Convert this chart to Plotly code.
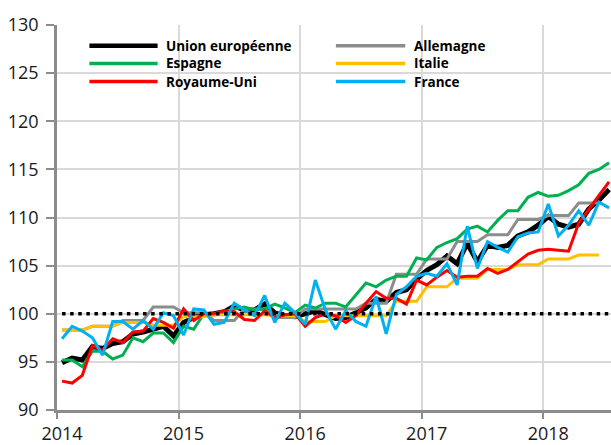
import plotly.graph_objects as go

# Monthly index: 0 = Jan 2014 ... 54 = Jul 2018
months = list(range(55))
year_labels = ["2014", "2015", "2016", "2017", "2018"]
year_ticks = [-0.5, 11.5, 23.5, 35.5, 47.5]

union_europeenne = [
    94.9, 95.4, 95.2, 96.6, 96.4, 96.9, 97.1, 97.9, 98.1, 98.4, 98.7, 97.7,
    99.1, 99.6, 99.9, 100.0, 100.2, 100.8, 100.4, 100.4, 101.0, 100.1, 99.8, 99.7,
    100.0, 100.3, 99.9, 99.5, 99.6, 100.1, 100.6, 101.5, 101.3, 102.2, 102.5, 103.6,
    104.5, 105.1, 106.0, 105.2, 107.3, 105.4, 107.1, 106.9, 107.1, 108.1, 108.5, 109.2,
    110.1, 109.3, 109.0, 109.3, 110.9, 111.8, 112.9,
]
allemagne = [
    98.3, 98.3, 98.3, 98.7, 98.7, 98.7, 99.3, 99.3, 99.3, 100.7, 100.7, 100.7,
    100.1, 100.1, 100.1, 99.3, 99.3, 99.3, 100.5, 100.5, 100.5, 99.6, 99.6, 99.6,
    100.5, 100.5, 100.5, 100.5, 100.5, 100.5, 101.1, 101.1, 101.1, 104.1, 104.1, 104.1,
    105.7, 105.7, 105.7, 107.5, 107.5, 107.5, 108.2, 108.2, 108.2, 109.8, 109.8, 109.8,
    110.2, 110.2, 110.2, 111.5, 111.5, 111.5, None,
]
espagne = [
    95.2, 95.2, 94.5, 96.1, 96.1, 95.3, 95.7, 97.5, 97.1, 98.0, 98.0, 97.0,
    98.7, 98.4, 100.0, 100.0, 100.2, 100.5, 100.7, 100.4, 100.5, 101.0, 100.6, 100.1,
    100.9, 100.6, 101.1, 101.1, 100.7, 102.0, 103.2, 102.8, 103.5, 103.9, 103.9, 105.8,
    105.6, 106.9, 107.4, 107.8, 108.8, 109.1, 108.5, 109.7, 110.7, 110.7, 112.1, 112.6,
    112.2, 112.3, 112.8, 113.4, 114.6, 115.0, 115.7,
]
italie = [
    98.3, 98.3, 98.3, 98.7, 98.7, 98.7, 99.1, 99.1, 99.1, 98.8, 98.8, 98.8,
    99.7, 99.7, 99.7, 99.9, 99.9, 99.9, 99.9, 99.9, 99.9, 99.8, 99.8, 99.8,
    99.2, 99.2, 99.2, 99.8, 99.8, 99.8, 99.8, 99.8, 99.8, 101.3, 101.3, 101.3,
    102.8, 102.8, 102.8, 103.7, 103.7, 103.7, 104.6, 104.6, 104.6, 105.1, 105.1, 105.1,
    105.7, 105.7, 105.7, 106.1, 106.1, 106.1, None,
]
royaume_uni = [
    93.0, 92.8, 93.6, 96.7, 96.2, 97.4, 97.0, 98.1, 98.2, 99.5, 99.1, 98.5,
    100.5, 99.3, 100.0, 100.0, 100.3, 100.2, 99.4, 99.3, 100.3, 99.6, 99.9, 100.0,
    98.7, 99.6, 100.0, 99.8, 99.1, 99.8, 101.1, 102.3, 101.6, 101.6, 101.0, 103.5,
    103.0, 103.8, 104.5, 103.8, 103.9, 103.9, 104.7, 104.2, 104.6, 105.4, 106.2, 106.6,
    106.7, 106.6, 106.5, 109.4, 110.9, 112.3, 113.7,
]
france = [
    97.4, 98.7, 98.2, 97.5, 95.7, 99.2, 99.2, 98.4, 99.3, 98.4, 100.1, 99.8,
    97.8, 100.5, 100.4, 98.9, 99.1, 101.1, 100.4, 99.8, 101.9, 99.1, 101.1, 100.1,
    98.9, 103.5, 100.4, 98.4, 100.3, 99.2, 98.7, 101.8, 97.9, 102.0, 102.8, 103.9,
    104.2, 103.9, 105.2, 103.0, 109.1, 104.7, 107.5, 106.9, 106.4, 108.0, 108.4, 108.5,
    111.4, 108.1, 109.2, 110.7, 109.2, 111.6, 111.0,
]
base_100 = [100] * len(months)

series = [
    ("Union européenne", union_europeenne, "#000000", 5),
    ("Allemagne", allemagne, "#8c8c8c", 3),
    ("Espagne", espagne, "#00b050", 3),
    ("Italie", italie, "#ffc000", 3),
    ("Royaume-Uni", royaume_uni, "#ff0000", 3),
    ("France", france, "#00b0f0", 3),
]

fig = go.Figure()
for name, vals, color, w in series:
    fig.add_trace(go.Scatter(x=months, y=vals, mode="lines", name=name,
                             line=dict(color=color, width=w), showlegend=False))
fig.add_trace(go.Scatter(x=months, y=base_100, mode="lines", showlegend=False,
                         line=dict(color="#000000", width=3.5, dash="3.5px,4.6px")))

# Manual legend (two columns, three rows)
leg_rows = [0.946, 0.900, 0.853]
leg_cols = [(0.0585, 0.1816, 0.1937), (0.5034, 0.6287, 0.6406)]
for i, (name, vals, color, w) in enumerate(series):
    r, c = divmod(i, 2)
    x0, x1, xt = leg_cols[c]
    yy = leg_rows[r]
    fig.add_shape(type="line", xref="paper", yref="paper", x0=x0, x1=x1, y0=yy, y1=yy,
                  line=dict(color=color, width=4.5 if w > 3 else 3.5))
    fig.add_annotation(xref="paper", yref="paper", x=xt, y=yy, text="<b>" + name + "</b>",
                       showarrow=False, xanchor="left", yanchor="middle",
                       font=dict(family="Open Sans", size=13.5, color="#000000"))

fig.update_layout(
    width=611, height=445,
    margin=dict(l=57, r=0, t=25, b=30),
    plot_bgcolor="#ffffff", paper_bgcolor="#ffffff",
    font=dict(family="Open Sans", size=18, color="#1a1a1a"),
)
fig.update_xaxes(
    range=[-0.5, 54.19], tickmode="array", tickvals=year_ticks, ticktext=year_labels,
    showgrid=True, gridcolor="#d9d9d9", gridwidth=1.5,
    showline=True, linecolor="#8c8c8c", linewidth=2.5,
    ticks="outside", ticklen=6, tickwidth=2, tickcolor="#8c8c8c",
    ticklabelshift=5, zeroline=False, tickfont=dict(size=18),
)
fig.update_yaxes(
    range=[90, 130], tickmode="linear", tick0=90, dtick=5,
    showgrid=True, gridcolor="#d9d9d9", gridwidth=1.5,
    showline=True, linecolor="#8c8c8c", linewidth=2.5,
    ticks="outside", ticklen=8, tickwidth=2, tickcolor="#8c8c8c",
    ticklabelstandoff=4, zeroline=False, tickfont=dict(size=18),
)

fig.write_html("out.html", config={"displayModeBar": False},
               post_script="document.body.style.margin='0';document.body.style.overflow='hidden';")
